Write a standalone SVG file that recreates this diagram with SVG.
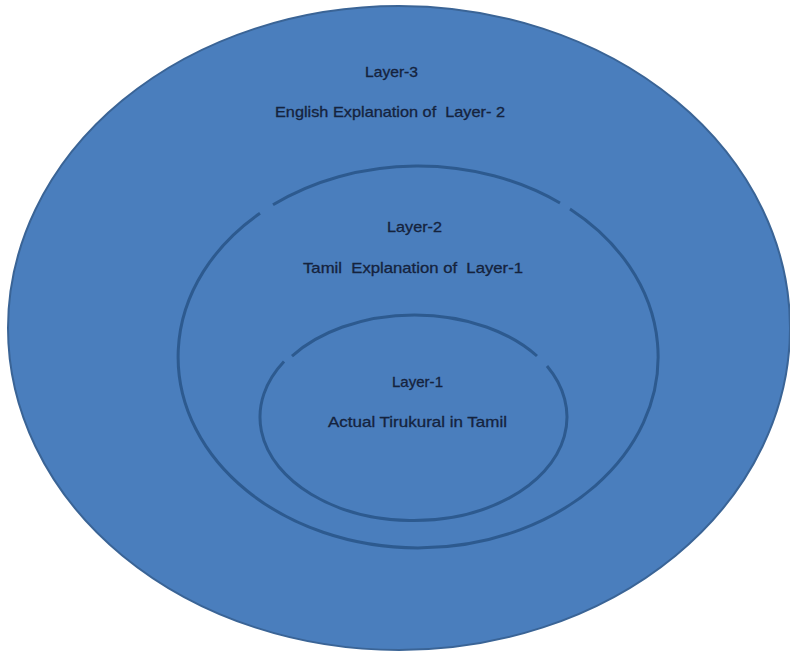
<svg xmlns="http://www.w3.org/2000/svg" width="790" height="652" viewBox="0 0 790 652">
<style>
.ring{fill:none;stroke:#2d5a8f;stroke-width:3;stroke-linecap:butt}
.lbl{font-family:"Liberation Sans","DejaVu Sans",sans-serif;font-size:14.5px;fill:#15233d;stroke:#15233d;stroke-width:0.3}
</style>
<rect width="790" height="652" fill="#ffffff"/>
<g id="layer3">
<ellipse cx="399" cy="328" rx="391" ry="322" fill="#4a7ebd" stroke="#3a6496" stroke-width="2"/>
<text class="lbl" x="365" y="77" textLength="53" lengthAdjust="spacingAndGlyphs">Layer-3</text>
<text class="lbl" x="275" y="117" textLength="230" lengthAdjust="spacingAndGlyphs" xml:space="preserve">English Explanation of  Layer- 2</text>
</g>
<g id="layer2">
<path class="ring" d="M273,204.8 A240,191 0 0 1 560,203 M570,209 A240,191 0 1 1 260,213.2"/>
<text class="lbl" x="387" y="232" textLength="55" lengthAdjust="spacingAndGlyphs">Layer-2</text>
<text class="lbl" x="303" y="273" textLength="220" lengthAdjust="spacingAndGlyphs" xml:space="preserve">Tamil  Explanation of  Layer-1</text>
</g>
<g id="layer1">
<path class="ring" d="M292,356.1 A153.5,103.5 0 0 1 537,356 M547,366 A153.5,103.5 0 1 1 284,361.5"/>
<text class="lbl" x="392" y="387" textLength="51" lengthAdjust="spacingAndGlyphs">Layer-1</text>
<text class="lbl" x="328" y="427" textLength="179" lengthAdjust="spacingAndGlyphs">Actual Tirukural in Tamil</text>
</g>
<g id="connectors"/>
</svg>
